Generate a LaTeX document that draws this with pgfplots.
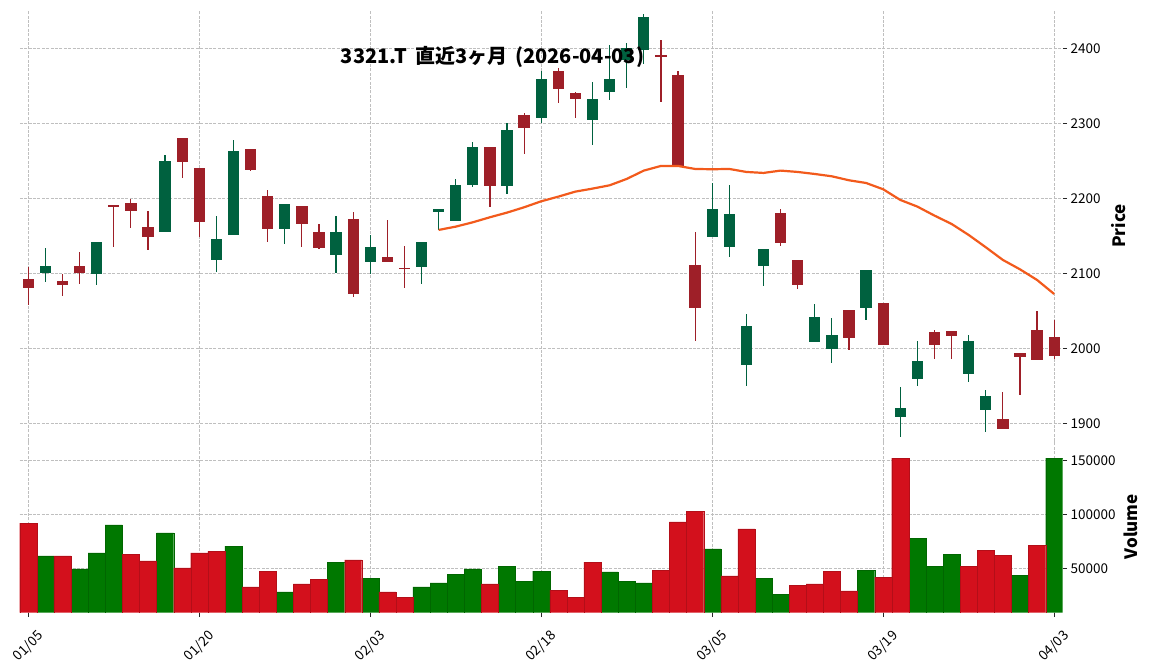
\documentclass[border=0pt]{standalone}
\usepackage{fontspec}
\setmainfont{Noto Sans CJK JP}
\usepackage{pgfplots}
\pgfplotsset{compat=1.18}
\usepackage{pgfplotstable}

\definecolor{upc}{HTML}{00613F}
\definecolor{dnc}{HTML}{9E1F28}
\definecolor{volg}{HTML}{007800}
\definecolor{volr}{HTML}{D3101C}
\definecolor{mac}{HTML}{F25A1C}

\pgfplotstableread{
i o h l c
1 2100.4 2133.3 2088.9 2110.2
4 2099.1 2142.2 2084.9 2142.2
8 2155.1 2257.3 2155.1 2249.8
11 2118.2 2176.0 2102.2 2145.8
12 2151.6 2277.3 2151.6 2263.1
15 2159.6 2192.4 2138.7 2192.4
18 2124.9 2176.0 2100.0 2155.1
20 2115.6 2150.7 2099.1 2135.1
23 2108.9 2141.8 2085.3 2141.8
24 2181.3 2185.8 2157.8 2185.8
25 2170.2 2225.3 2170.2 2217.8
26 2217.8 2274.7 2214.7 2268.4
28 2216.9 2300.0 2205.3 2291.1
30 2307.6 2370.2 2300.0 2359.1
33 2304.9 2354.7 2270.7 2332.4
34 2342.2 2404.4 2330.7 2359.1
35 2384.0 2407.0 2347.0 2400.0
36 2398.2 2445.3 2378.7 2441.8
40 2148.4 2220.0 2148.4 2185.8
41 2135.1 2217.3 2121.3 2179.1
42 1977.8 2045.3 1950.2 2029.8
43 2109.8 2132.9 2083.6 2132.9
46 2008.4 2058.7 2008.4 2041.8
47 1999.1 2040.9 1980.9 2017.8
49 2054.2 2104.4 2037.3 2104.4
51 1908.9 1948.0 1881.3 1920.4
52 1959.6 2009.3 1949.8 1983.1
55 1966.2 2017.3 1954.7 2009.8
56 1918.2 1944.4 1888.0 1936.4
}\upcandles

\pgfplotstableread{
i o h l c
0 2092.4 2108.0 2057.3 2080.9
2 2089.8 2099.1 2069.3 2084.4
3 2110.2 2128.0 2086.2 2100.4
5 2191.1 2191.1 2135.6 2188.4
6 2193.8 2198.7 2160.9 2183.1
7 2161.8 2182.7 2130.7 2148.4
9 2280.9 2280.9 2227.6 2248.4
10 2240.9 2240.9 2148.9 2168.9
13 2265.8 2265.8 2236.4 2237.8
14 2203.1 2210.7 2141.3 2159.6
16 2189.8 2189.8 2134.7 2166.2
17 2155.1 2165.3 2132.9 2133.8
19 2172.4 2181.8 2068.9 2072.4
21 2121.8 2170.7 2115.6 2115.6
22 2107.6 2136.9 2080.0 2106.2
27 2268.4 2268.4 2188.0 2216.4
29 2311.1 2313.3 2258.7 2294.2
31 2369.8 2373.3 2326.7 2346.2
32 2340.4 2342.2 2306.7 2332.9
37 2391.0 2410.7 2328.0 2389.5
38 2364.4 2370.2 2243.6 2243.6
39 2111.1 2154.7 2009.3 2054.2
44 2180.9 2185.3 2136.9 2140.4
45 2118.2 2118.2 2079.6 2084.4
48 2051.1 2051.1 1997.3 2014.2
50 2060.4 2060.4 2004.9 2004.9
53 2021.8 2024.9 1985.3 2004.9
54 2023.1 2023.1 1985.3 2016.9
57 1905.8 1941.3 1892.9 1892.9
58 1993.8 1993.8 1937.3 1988.9
59 2024.4 2049.8 1984.4 1984.4
60 2015.1 2037.8 1986.2 1989.8
}\dncandles

\pgfplotstableread{
i v
1 61400
3 49400
4 64200
5 90100
8 82700
12 70600
15 28100
18 55800
20 41000
23 32700
24 36400
25 44700
26 49400
28 52100
29 38200
30 47500
34 46600
35 38200
36 36400
40 67900
43 41000
44 26200
49 48400
52 78000
53 52100
54 63200
58 43800
60 152100
}\volup

\pgfplotstableread{
i v
0 91900
2 61400
6 63200
7 56800
9 50300
10 64200
11 66000
13 32700
14 47500
16 35500
17 40100
19 57700
21 28100
22 23400
27 35500
31 29900
32 23400
33 55800
37 48400
38 92900
39 103000
41 42900
42 86400
45 34500
46 35500
47 47500
48 29000
50 41900
51 152100
55 52100
56 66900
57 62300
59 71500
}\voldn

\pgfplotsset{
  base/.style={
    scale only axis, width=1043pt,
    xmin=-0.5, xmax=60.5,
    axis line style={draw=none},
    grid=major,
    grid style={dash pattern=on 3pt off 1.4pt, line width=0.7pt, color=black!25},
    tick label style={font=\fontsize{13.5}{16}\selectfont},
    /pgf/number format/assume math mode=true,
    /pgf/number format/1000 sep={},
    xtick={0,10,...,60},
    ytick pos=right, yticklabel pos=right,
    tick align=outside, major tick length=4.5pt,
    tick style={draw=black!85, line width=0.8pt},
  },
  candle/.style 2 args={draw=none, mark=none, forget plot,
    error bars/.cd, y dir=both, y explicit, error mark=none,
    error bar style={line width=#1, draw=#2, solid}},
}

\begin{document}
\begin{tikzpicture}
\useasboundingbox (0,0) rectangle (1152pt,670pt);

% ---------- price panel ----------
\begin{axis}[base,
  at={(19.75pt,229pt)}, anchor=south west, height=430pt,
  ymin=1876.4, ymax=2449.7,
  ytick={1900,2000,...,2400},
  xticklabels={}, xtick style={draw=none},
  ylabel={\bfseries Price},
  ylabel style={at={(rel axis cs:1.0532,0.5)}, anchor=center, font=\fontsize{17}{20}\selectfont},
  title={3321.T\hspace{0.4em}直近3ヶ月\hspace{0.4em}(2026-04-03)},
  title style={at={(rel axis cs:0.4533,0.8634)}, anchor=base, font=\bfseries\fontsize{20}{24}\selectfont},
]
% wicks
\addplot[candle={1.2pt}{upc}]
  table[x=i, y expr=(\thisrow{h}+\thisrow{l})/2, y error expr=(\thisrow{h}-\thisrow{l})/2] {\upcandles};
\addplot[candle={1.2pt}{dnc}]
  table[x=i, y expr=(\thisrow{h}+\thisrow{l})/2, y error expr=(\thisrow{h}-\thisrow{l})/2] {\dncandles};
% bodies
\addplot[candle={11.3pt}{upc}]
  table[x=i, y expr=(\thisrow{o}+\thisrow{c})/2, y error expr=abs(\thisrow{c}-\thisrow{o})/2] {\upcandles};
\addplot[candle={11.3pt}{dnc}]
  table[x=i, y expr=(\thisrow{o}+\thisrow{c})/2, y error expr=abs(\thisrow{c}-\thisrow{o})/2] {\dncandles};
% 25-day moving average
\addplot[color=mac, line width=2.2pt, mark=none, line join=round] coordinates {
(24,2157.8) (25,2162.2) (26,2168.0) (27,2174.7) (28,2180.9) (29,2188.0)
(30,2196.0) (31,2202.2) (32,2208.9) (33,2212.9) (34,2217.3) (35,2225.8)
(36,2236.9) (37,2243.1) (38,2243.1) (39,2239.1) (40,2238.7) (41,2239.1)
(42,2235.1) (43,2233.8) (44,2236.9) (45,2235.1) (46,2232.4) (47,2229.3)
(48,2224.0) (49,2220.4) (50,2212.0) (51,2197.8) (52,2188.9) (53,2176.9)
(54,2165.8) (55,2151.1) (56,2134.7) (57,2117.8) (58,2105.3) (59,2091.1)
(60,2072.4)};
\end{axis}

% ---------- volume panel ----------
\begin{axis}[base,
  at={(19.75pt,57.3pt)}, anchor=south west, height=171.7pt,
  ymin=8900, ymax=167870,
  ytick={50000,100000,150000},
  scaled y ticks=false,
  /pgf/number format/fixed,
  xtick pos=left,
  xticklabels={01/05,01/20,02/03,02/18,03/05,03/19,04/03},
  xticklabel style={yshift=-29pt, rotate=45, anchor=center},
  ylabel={\bfseries Volume},
  ylabel style={at={(rel axis cs:1.0654,0.5)}, anchor=center, font=\fontsize{17}{20}\selectfont},
]
\addplot[ybar, bar width=1, bar shift=0pt, fill=volg, draw=volg!85!black, line width=0.2pt]
  table[x=i, y=v] {\volup};
\addplot[ybar, bar width=1, bar shift=0pt, fill=volr, draw=volr!85!black, line width=0.2pt]
  table[x=i, y=v] {\voldn};
\end{axis}
\end{tikzpicture}
\end{document}
